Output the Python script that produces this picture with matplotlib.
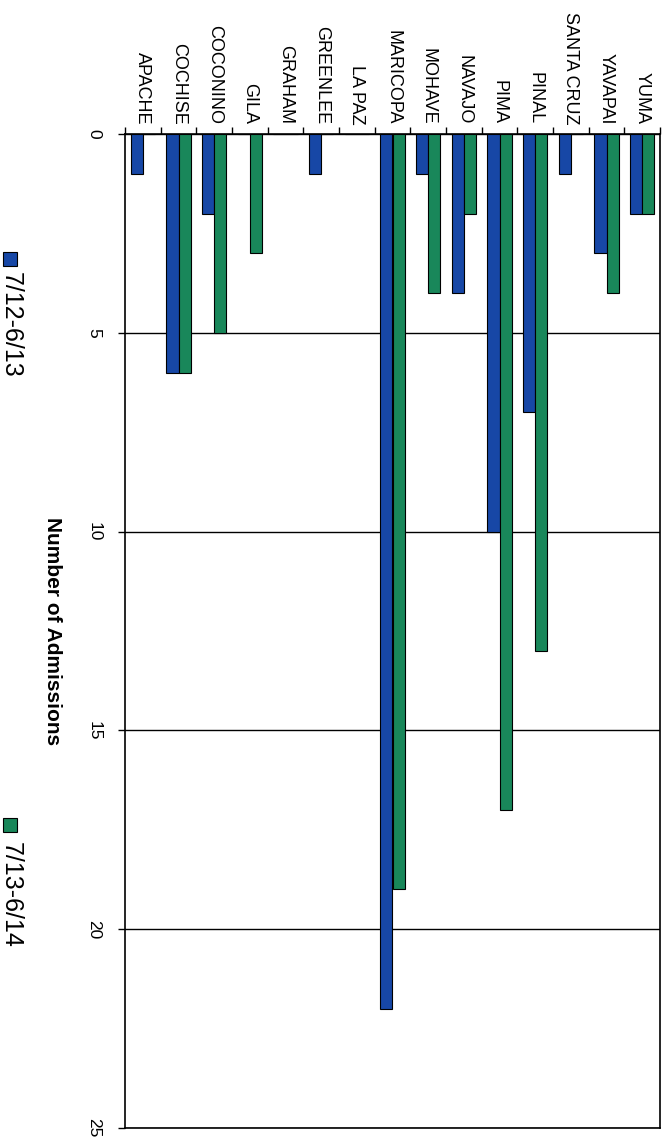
import matplotlib.pyplot as plt
import numpy as np
from matplotlib.patches import Rectangle

plt.rcParams['font.family'] = ['Liberation Sans', 'DejaVu Sans']

# данные
counties = ['APACHE', 'COCHISE', 'COCONINO', 'GILA', 'GRAHAM', 'GREENLEE', 'LA PAZ',
            'MARICOPA', 'MOHAVE', 'NAVAJO', 'PIMA', 'PINAL', 'SANTA CRUZ', 'YAVAPAI', 'YUMA']
adm_12_13 = [1, 6, 2, 0, 0, 1, 0, 22, 1, 4, 10, 7, 1, 3, 2]
adm_13_14 = [0, 6, 5, 3, 0, 0, 0, 19, 4, 2, 17, 13, 0, 4, 2]
series_names = ['7/12-6/13', '7/13-6/14']
blue = '#1747a6'
green = '#19875a'

fig = plt.figure(figsize=(6.68, 11.42), dpi=100)
ax = fig.add_axes([125 / 668, 14 / 1142, 535 / 668, 994 / 1142])

x = np.arange(len(counties))
w = 0.345
ax.bar(x - w / 2, adm_12_13, w, color=blue, edgecolor='black', linewidth=0.8, zorder=3)
ax.bar(x + w / 2, adm_13_14, w, color=green, edgecolor='black', linewidth=0.8, zorder=3)

ax.set_xlim(-0.5, len(counties) - 0.5)
ax.set_ylim(25, 0)

# категории сверху
ax.xaxis.tick_top()
ax.set_xticks(x)
ax.set_xticklabels(counties, rotation=-90, ha='center', va='bottom', fontsize=13)
ax.tick_params(axis='x', which='major', length=0, pad=7)
ax.set_xticks(np.arange(len(counties) + 1) - 0.5, minor=True)
ax.tick_params(axis='x', which='minor', length=5, width=1, direction='out', top=True, bottom=False)

ax.set_yticks([0, 5, 10, 15, 20, 25])
ax.set_yticklabels(['0', '5', '10', '15', '20', '25'], rotation=-90, fontsize=12.5, va='center')
ax.tick_params(axis='y', length=5, width=1, direction='out', pad=12)
ax.yaxis.grid(True, color='black', linewidth=1)
ax.set_axisbelow(True)

for s in ax.spines.values():
    s.set_color('black')
    s.set_linewidth(1.2)

ax.set_ylabel('Number of Admissions', rotation=-90, fontsize=15, fontweight='bold',
              ha='center', va='center')
ax.yaxis.set_label_coords(-0.1346, 0.5)

# легенда вручную (повернута)
for col, name, ytop, ytext in [(blue, series_names[0], 252, 272), (green, series_names[1], 818, 842)]:
    fig.patches.append(Rectangle((3 / 668, (1142 - ytop - 14) / 1142), 14 / 668, 14 / 1142,
                                 transform=fig.transFigure, facecolor=col,
                                 edgecolor='black', linewidth=0.8))
    fig.text(11 / 668, 1 - ytext / 1142, name, rotation=-90, ha='center', va='top', fontsize=18)

fig.savefig('out.png', dpi=100)
